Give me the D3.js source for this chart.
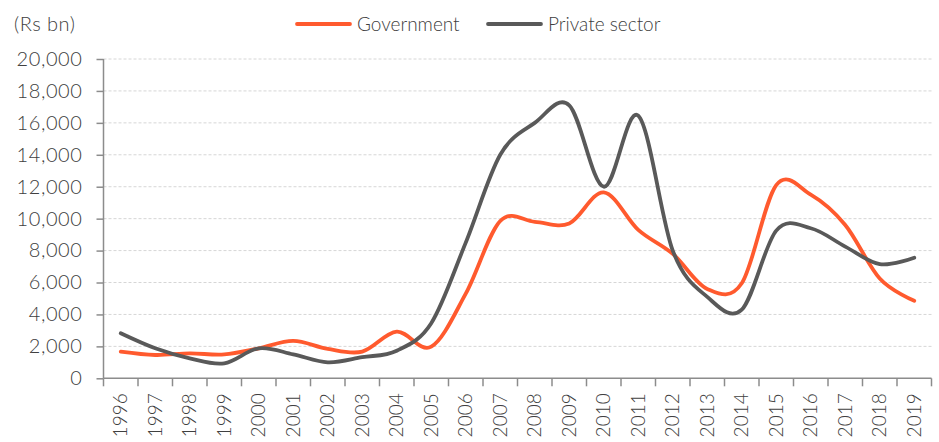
<!DOCTYPE html>
<html>
<head>
<meta charset="utf-8">
<script src="https://cdn.jsdelivr.net/npm/d3@7"></script>
<style>
  body { margin: 0; background: #fff; }
  text { font-family: Lato, "Noto Sans", sans-serif; font-weight: 300; fill: #404040; }
</style>
</head>
<body>
<svg id="chartSVG" width="939" height="442"></svg>
<script>
// years on the x axis
const years = ["1996", "1997", "1998", "1999", "2000", "2001", "2002", "2003", "2004", "2005",
               "2006", "2007", "2008", "2009", "2010", "2011", "2012", "2013", "2014", "2015",
               "2016", "2017", "2018", "2019"];

// values in Rs bn
const government = [1670, 1460, 1560, 1500, 1880, 2340, 1840, 1670, 2920, 1980,
                    5300, 9850, 9800, 9700, 11650, 9300, 7800, 5600, 5950, 12100,
                    11500, 9600, 6250, 4850];
const privateSector = [2820, 1880, 1250, 940, 1880, 1500, 1000, 1320, 1730, 3450,
                       8500, 14000, 16000, 17100, 12000, 16450, 8000, 5100, 4300, 9250,
                       9400, 8250, 7150, 7550];

const yTicks = [0, 2000, 4000, 6000, 8000, 10000, 12000, 14000, 16000, 18000, 20000];

const seriesNames = ["Government", "Private sector"];
const seriesColours = ["#FF5A2E", "#595959"];

var svg = d3.select("#chartSVG");

var plotLeft = 103.5, plotRight = 931.5, plotTop = 59, plotBottom = 378.3;

var xScale = d3.scaleBand().domain(years).range([plotLeft, plotRight]);
var yScale = d3.scaleLinear().domain([0, 20000]).range([plotBottom, plotTop]);

// gridlines
svg.append("g")
    .selectAll("line")
    .data(yTicks.slice(1))
    .join("line")
        .attr("x1", plotLeft)
        .attr("x2", plotRight)
        .attr("y1", d => yScale(d))
        .attr("y2", d => yScale(d))
        .attr("stroke", "#d6d6d6")
        .attr("stroke-width", 1)
        .attr("stroke-dasharray", "3,2");

// y axis
var yAxis = d3.axisLeft(yScale)
    .tickValues(yTicks)
    .tickSize(7)
    .tickPadding(14)
    .tickFormat(d3.format(","));
var yG = svg.append("g")
    .attr("transform", "translate(" + plotLeft + ",0)")
    .call(yAxis);
yG.select(".domain").remove();
yG.selectAll("line").attr("stroke", "#8c8c8c").attr("stroke-width", 1.5);
yG.selectAll("text")
    .attr("font-size", 20)
    .attr("font-family", null)
    .attr("letter-spacing", 0.6)
    .attr("fill", "#404040");
svg.append("line")
    .attr("x1", plotLeft).attr("x2", plotLeft)
    .attr("y1", plotTop).attr("y2", plotBottom)
    .attr("stroke", "#8c8c8c").attr("stroke-width", 1.5);

// x axis: ticks on band edges
var xG = svg.append("g");
xG.append("line")
    .attr("x1", plotLeft).attr("x2", plotRight)
    .attr("y1", plotBottom).attr("y2", plotBottom)
    .attr("stroke", "#8c8c8c").attr("stroke-width", 1.5);
var edges = years.map(y => xScale(y)).concat([xScale(years[years.length - 1]) + xScale.bandwidth()]);
xG.selectAll("line.tick")
    .data(edges)
    .join("line")
        .attr("class", "tick")
        .attr("x1", d => d).attr("x2", d => d)
        .attr("y1", plotBottom).attr("y2", plotBottom + 8)
        .attr("stroke", "#8c8c8c").attr("stroke-width", 1.5);
xG.selectAll("text")
    .data(years)
    .join("text")
        .attr("transform", d => "translate(" + (xScale(d) + xScale.bandwidth() / 2) + "," + (plotBottom + 15) + ") rotate(-90)")
        .attr("text-anchor", "end")
        .attr("dy", "0.35em")
        .attr("font-size", 19)
        .text(d => d);

// unit label
svg.append("text")
    .attr("x", 14)
    .attr("y", 31)
    .attr("font-size", 20)
    .attr("letter-spacing", 0.5)
    .text("(Rs bn)");

// lines
var line = d3.line()
    .x((d, i) => xScale(years[i]) + xScale.bandwidth() / 2)
    .y(d => yScale(d))
    .curve(d3.curveCardinal.tension(0));

[government, privateSector].forEach((series, i) => {
    svg.append("path")
        .datum(series)
        .attr("d", line)
        .attr("fill", "none")
        .attr("stroke", seriesColours[i])
        .attr("stroke-width", 3.8)
        .attr("stroke-linecap", "round")
        .attr("stroke-linejoin", "round");
});

// legend
var legendX = [297, 488];
seriesNames.forEach((name, i) => {
    var g = svg.append("g").attr("transform", "translate(" + legendX[i] + ",24)");
    g.append("line")
        .attr("x1", 0).attr("x2", 53)
        .attr("stroke", seriesColours[i])
        .attr("stroke-width", 3.8)
        .attr("stroke-linecap", "round");
    g.append("text")
        .attr("x", 60)
        .attr("dy", "0.35em")
        .attr("font-size", 19)
        .text(name);
});
</script>
</body>
</html>
